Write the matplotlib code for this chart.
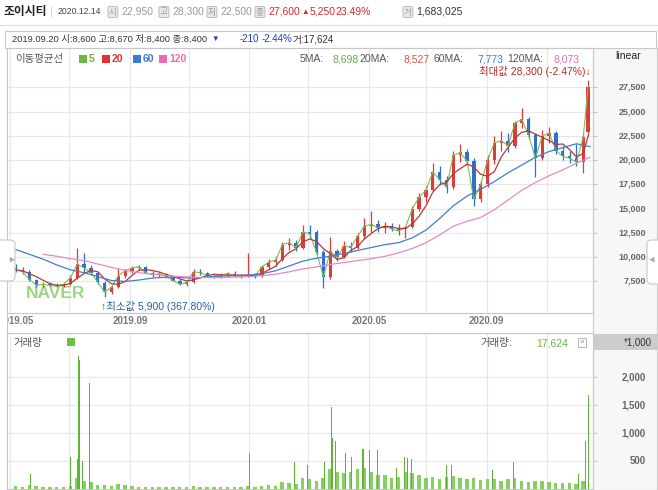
import numpy as np
import pandas as pd
import matplotlib
matplotlib.use("Agg")
import matplotlib.pyplot as plt
import matplotlib.transforms as mtransforms
from matplotlib.patches import Rectangle, FancyBboxPatch
from matplotlib.lines import Line2D

plt.rcParams['font.family'] = ['Liberation Sans', 'Noto Sans CJK KR', 'DejaVu Sans']

# ---- weekly candles (Monday of each week), 2019.05 - 2020.12.14 ----
weeks = pd.date_range("2019-05-06", "2020-12-14", freq="W-MON")
last_day = pd.Timestamp("2020-12-14")

opens = [8900, 8700, 8500, 7700, 7100, 7200, 7100, 7000, 7200, 7900,
         9300, 8900, 8400, 7300, 6400, 6900, 8100, 8600, 8900, 9000,
         8400, 8200, 8300, 8000, 7600, 7200, 7400, 8500, 8400, 8100,
         8100, 8200, 8300, 8100, 8100, 8200, 8100, 9000, 9500, 9700,
         11300, 11500, 11000, 12600, 12600, 10500, 8000, 10600, 10000, 11200,
         11000, 12200, 13200, 13400, 13000, 13200, 12900, 12900, 13100, 15000,
         16200, 16900, 18800, 18000, 17200, 20500, 20800, 19900, 16000, 17500,
         20000, 21800, 22000, 21500, 23800, 24200, 22600, 20200, 22500, 22800,
         21000, 20400, 20200, 19800, 22950]
highs = [9300, 9000, 8700, 7800, 7400, 7400, 7300, 7300, 8200, 10900,
         10400, 9200, 8500, 7500, 7000, 8900, 8800, 9100, 9200, 9100,
         8600, 8500, 8400, 8100, 7800, 7500, 8800, 8800, 8500, 8300,
         8400, 8500, 8600, 8300, 10400, 8400, 9200, 9800, 10100, 11600,
         12000, 11800, 13300, 13300, 12800, 10700, 12100, 10800, 11700, 11600,
         12500, 14000, 14800, 13800, 13600, 13500, 13400, 13200, 15300, 16600,
         17300, 19700, 19400, 18400, 21000, 21700, 21200, 20200, 17900, 20500,
         22500, 23000, 22800, 24000, 25400, 24500, 22800, 23100, 23400, 23000,
         21500, 21000, 21700, 22800, 28300]
lows = [8500, 8300, 7600, 6900, 6900, 7000, 6900, 6900, 7100, 7800,
        8500, 8200, 7200, 5900, 6200, 6800, 7900, 8400, 8700, 8400,
        8000, 8000, 7900, 7500, 7100, 7000, 7300, 8200, 8000, 7900,
        7900, 8000, 8000, 7900, 8000, 7900, 8000, 8800, 9100, 9600,
        10700, 10600, 10800, 12000, 10200, 6800, 7800, 9600, 9900, 10500,
        10800, 11900, 12500, 12600, 12500, 12700, 12300, 12000, 13000, 14800,
        15700, 16800, 17600, 16600, 17000, 19800, 19500, 15300, 15700, 17200,
        19600, 21000, 20800, 21300, 23300, 22200, 18300, 20000, 21800, 20600,
        20000, 19700, 19400, 18700, 22500]
closes = [8700, 8500, 7700, 7100, 7200, 7100, 7000, 7200, 7900, 9300,
          8900, 8400, 7400, 6400, 6900, 8100, 8600, 8900, 9000, 8400,
          8200, 8300, 8000, 7600, 7200, 7400, 8500, 8400, 8100, 8000,
          8200, 8300, 8100, 8000, 8200, 8100, 9000, 9500, 9700, 11300,
          11500, 11000, 12600, 12400, 10500, 8000, 10600, 10000, 11200, 11000,
          12200, 13200, 13400, 13000, 13200, 12900, 12700, 13100, 15000, 16200,
          16900, 18800, 18000, 17200, 20500, 20800, 19900, 16000, 17500, 20000,
          21800, 22000, 21500, 23800, 24200, 22600, 20200, 22500, 22800, 21000,
          20400, 20200, 19800, 22350, 27600]

# moving averages read every second week
ma_weeks = weeks[::2]
ma60 = [10800, 10300, 9800, 9200, 8700, 8400, 8000, 7600, 7500, 7650,
        7850, 7950, 7900, 7850, 7950, 8050, 8100, 8150, 8300, 8600,
        9100, 9600, 9900, 10100, 10400, 10700, 11000, 11300, 11500, 12000,
        12800, 14000, 15300, 16300, 17000, 17800, 18700, 19500, 20300, 20900,
        21300, 21700, 21400]
ma120 = [np.nan, np.nan, 10300, 10100, 9850, 9650, 9300, 8950, 8650, 8400,
         8250, 8100, 8000, 7950, 7900, 7900, 7950, 8000, 8100, 8250,
         8500, 8800, 9000, 9250, 9450, 9650, 9850, 10100, 10450, 10900,
         11500, 12300, 13200, 13700, 14100, 14900, 15900, 16900, 17700, 18400,
         19000, 19700, 20300]

# volume (x1,000 shares): typical daily level per week + single-day spikes
vol_week = [60, 40, 70, 50, 40, 30, 30, 30, 60, 200,
            150, 120, 70, 80, 60, 90, 70, 50, 40, 40,
            30, 30, 30, 30, 40, 30, 60, 40, 30, 30,
            30, 30, 30, 30, 50, 40, 60, 70, 60, 120,
            110, 90, 200, 180, 150, 200, 350, 300, 280, 300,
            350, 380, 300, 250, 250, 200, 220, 300, 280, 250,
            200, 220, 180, 220, 230, 200, 180, 200, 160, 180,
            170, 150, 180, 200, 150, 130, 150, 140, 120, 110,
            110, 100, 90, 150, 0]
spike_dates = ["2019-05-23", "2019-07-03", "2019-07-10", "2019-07-11", "2019-07-12",
               "2019-07-15", "2019-07-22", "2020-01-02", "2020-02-17", "2020-03-02",
               "2020-03-19", "2020-03-26", "2020-03-27", "2020-03-30", "2020-04-10",
               "2020-04-16", "2020-04-27", "2020-04-28", "2020-05-04", "2020-05-12",
               "2020-06-01", "2020-06-09", "2020-06-12", "2020-06-16", "2020-07-22",
               "2020-07-27", "2020-09-07", "2020-09-29", "2020-12-04", "2020-12-11",
               "2020-12-14"]
spike_vols = [260, 575, 530, 2380, 2300, 500, 1900, 643, 483, 430,
              480, 1465, 914, 860, 640, 570, 720, 720, 690, 690,
              380, 570, 560, 540, 430, 430, 345, 483, 260, 860,
              1683]

grid_dates = ["2019-05-02", "2019-07-01", "2019-09-02", "2019-11-01", "2020-01-02",
              "2020-03-02", "2020-05-04", "2020-07-01", "2020-09-01", "2020-11-02"]
label_dates = ["2019-05-08", "2019-09-02", "2020-01-02", "2020-05-04", "2020-09-01"]
date_labels = ["2019.05", "2019.09", "2020.01", "2020.05", "2020.09"]
price_ticks = [7500, 10000, 12500, 15000, 17500, 20000, 22500, 25000, 27500]
vol_ticks = [500, 1000, 1500, 2000]

# ---- figure helpers (pixel positions) ----
W, H = 658, 490
fig = plt.figure(figsize=(W / 100, H / 100), dpi=100)
fig.patch.set_facecolor('white')


def fx(x):
    return x / W


def fy(y):
    return 1 - y / H


def ftext(x, y, s, **kw):
    kw.setdefault('va', 'center')
    fig.text(fx(x), fy(y), s, **kw)


def fbox(x0, y0, x1, y1, **kw):
    fig.patches.append(Rectangle((fx(x0), fy(y1)), (x1 - x0) / W, (y1 - y0) / H,
                                 transform=fig.transFigure, **kw))


def fline(x0, y0, x1, y1, **kw):
    fig.add_artist(Line2D([fx(x0), fx(x1)], [fy(y0), fy(y1)], transform=fig.transFigure, **kw))


# right gray column, info box, header line (behind the axes)
fbox(593, 48, 657, 490, facecolor='#f7f7f7', edgecolor='#cccccc', lw=0.8, zorder=-2)
fbox(5, 31, 656, 48, facecolor='white', edgecolor='#c8c8c8', lw=0.8, zorder=-2)
fline(0, 25, 658, 25, color='#dddddd', lw=0.8)
fline(7, 313, 7, 333, color='#c6c6c6', lw=0.8)

ax = fig.add_axes([fx(7), fy(313), (593 - 7) / W, (313 - 48) / H])
axv = fig.add_axes([fx(7), fy(489), (593 - 7) / W, (489 - 333) / H])

xmin, xmax = pd.Timestamp("2019-04-29"), pd.Timestamp("2020-12-19")
for a in (ax, axv):
    for s in a.spines.values():
        s.set_color('#c6c6c6')
        s.set_linewidth(0.8)
    a.set_xlim(xmin, xmax)
    a.set_xticks(pd.to_datetime(grid_dates))
    a.tick_params(axis='x', length=0, labelbottom=False)
    a.grid(True, color='#e7e7e7', lw=0.8)
    a.set_axisbelow(True)

# ---- price panel ----
o = np.array(opens)
hi = np.array(highs)
lo = np.array(lows)
c = np.array(closes)
cx = (weeks + pd.Timedelta(days=2))[:-1].append(pd.DatetimeIndex([last_day]))
cols = np.where(c >= o, '#e03a3a', '#2d6fd2')

ax.vlines(cx, lo, hi, colors=cols, lw=0.9, zorder=3)
ax.bar(cx, np.abs(c - o), bottom=np.minimum(o, c), width=3.4, color=cols, zorder=4)

ma20 = pd.Series(closes).rolling(4, min_periods=1).mean()
ax.plot(cx, c, color='#7cbf52', lw=0.8, zorder=5)
ax.plot(cx, ma20, color='#b83a32', lw=0.9, zorder=5)
ax.plot(ma_weeks + pd.Timedelta(days=2), ma60, color='#3f7fd0', lw=0.9, zorder=5)
ax.plot(ma_weeks + pd.Timedelta(days=2), ma120, color='#e68ac6', lw=0.9, zorder=5)

ax.set_ylim(4250, 31570)
ax.set_yticks(price_ticks)
ax.yaxis.tick_right()
ax.tick_params(axis='y', length=3, color='#c6c6c6', labelright=False)
for v in price_ticks:
    ax.text(1.0904, v, f"{v:,}", transform=ax.get_yaxis_transform(), ha='right', va='center',
            fontsize=6.5, fontweight='bold', color='#666666', clip_on=False)

ax.text(fx(26), fy(293), 'NAVER', transform=fig.transFigure, fontsize=12.5, fontweight='black',
        color='#8dcf6a', alpha=0.85, va='center', ha='left', zorder=2)

imax = int(np.argmax(hi))
imin = int(np.argmin(lo))
ax.annotate(f"최대값 {hi[imax]:,} (-2.47%)↓", xy=(cx[imax], hi[imax]), xytext=(3, 8),
            textcoords='offset pixels', ha='right', va='center', fontsize=7.5, color='#b52a2a', zorder=6)
ax.annotate(f"↑최소값 {lo[imin]:,} (367.80%)", xy=(cx[imin], lo[imin]), xytext=(-4, -10),
            textcoords='offset pixels', ha='left', va='center', fontsize=7.5, color='#2a5aa8', zorder=6)

trans = mtransforms.blended_transform_factory(ax.transData, fig.transFigure)
for d, lab in zip(label_dates, date_labels):
    ax.text(pd.Timestamp(d), fy(321), lab, transform=trans, ha='center', va='center',
            fontsize=7, fontweight='bold', color='#777777', clip_on=False)

# ---- volume panel ----
axv.bar(weeks, vol_week, width=3.6, align='edge', color='#86cf63', zorder=2)
axv.bar(pd.to_datetime(spike_dates), spike_vols, width=1.1, color='#5db534', zorder=3)
axv.set_ylim(0, 2790)
axv.set_yticks(vol_ticks)
axv.yaxis.tick_right()
axv.tick_params(axis='y', length=3, color='#c6c6c6', labelright=False)
for v in vol_ticks:
    axv.text(1.0904, v, f"{v:,}", transform=axv.get_yaxis_transform(), ha='right', va='center',
             fontsize=7, fontweight='bold', color='#666666', clip_on=False)

# masks and side handles
fbox(0, 314, 6.6, 332, facecolor='white', edgecolor='none', zorder=10)
fig.patches.append(FancyBboxPatch((fx(-6), fy(281)), 21 / W, 41 / H, boxstyle='round,pad=0,rounding_size=0.008',
                                  transform=fig.transFigure, facecolor='white', edgecolor='#c8c8c8', lw=0.8, zorder=11))
ftext(11, 259, '▶', fontsize=4.5, color='#aaaaaa', ha='center', zorder=12)
fig.patches.append(FancyBboxPatch((fx(647), fy(284)), 16 / W, 44 / H, boxstyle='round,pad=0,rounding_size=0.008',
                                  transform=fig.transFigure, facecolor='white', edgecolor='#c8c8c8', lw=0.8, zorder=11))
ftext(652, 259, '◀', fontsize=4.5, color='#aaaaaa', ha='center', zorder=12)

# ---- header ----
ftext(4, 12, '조이시티', fontsize=8.5, fontweight='bold', color='#222222')
ftext(50, 12, '|', fontsize=8, color='#cccccc')
ftext(58, 12, '2020.12.14', fontsize=6.2, color='#444444')
icon_kw = dict(fontsize=6.2, color='#9a9a9a',
               bbox=dict(boxstyle='round,pad=0.12,rounding_size=0.2', facecolor='#e9e9e9',
                         edgecolor='#b5b5b5', lw=0.6))
for x, ch in [(109, '시'), (160, '고'), (208, '저'), (256, '종'), (404, '거')]:
    ftext(x, 12, ch, **icon_kw)
ftext(121, 12, '22,950', fontsize=7.5, color='#999999')
ftext(172, 12, '28,300', fontsize=7.5, color='#999999')
ftext(220, 12, '22,500', fontsize=7.5, color='#999999')
ftext(268, 12, '27,600', fontsize=7.5, color='#d42a2a')
ftext(301, 12, '▲', fontsize=5.5, color='#d42a2a')
ftext(310, 12, '5,250', fontsize=7.5, color='#d42a2a')
ftext(335, 12, '23.49%', fontsize=7.5, color='#d42a2a')
ftext(416, 12, '1,683,025', fontsize=7.5, color='#333333')

ftext(12, 39.5, '2019.09.20 시:8,600 고:8,670 저:8,400 종:8,400', fontsize=6.7, color='#333333')
ftext(211, 39.5, '▼', fontsize=5.5, color='#1f3fb0')
ftext(240, 39.5, '-210', fontsize=7, color='#1f3fb0')
ftext(262, 39.5, '-2.44%', fontsize=7, color='#1f3fb0')
ftext(293, 39.5, '거:17,624', fontsize=7, color='#333333')

# ---- legend row ----
ftext(15, 59, '이동평균선', fontsize=7.5, color='#555555')
for x0, lab, col in [(79, '5', '#6cb844'), (102, '20', '#e03232'), (133, '60', '#3a7bd5'), (159, '120', '#f06ab0')]:
    fbox(x0, 55, x0 + 8, 63, facecolor=col, edgecolor='none', zorder=3)
    ftext(x0 + 10, 59, lab, fontsize=7.5, fontweight='bold', color=col)

ftext(300, 59, '5MA:', fontsize=7.5, color='#555555')
ftext(333, 59, '8,698', fontsize=7.5, color='#6aa84f')
ftext(359, 59, '20MA:', fontsize=7.5, color='#555555')
ftext(403, 59, '8,527', fontsize=7.5, color='#d9534f')
ftext(434, 59, '60MA:', fontsize=7.5, color='#555555')
ftext(477, 59, '7,773', fontsize=7.5, color='#3a7bd5')
ftext(507, 59, '120MA:', fontsize=7.5, color='#555555')
ftext(553, 59, '8,073', fontsize=7.5, color='#e070b8')
ftext(615, 56, 'linear', fontsize=7.5, color='#222222')

# ---- volume header ----
ftext(13, 343, '거래량', fontsize=7.5, color='#555555')
fbox(67, 338, 75, 346, facecolor='#6cc04a', edgecolor='none', zorder=3)
ftext(480, 343, '거래량:', fontsize=7.5, color='#555555')
ftext(536, 343, '17,624', fontsize=7.5, color='#6cb33e')
fbox(578, 338, 586, 347, facecolor='white', edgecolor='#aaaaaa', lw=0.6, zorder=3)
ftext(582, 342.5, '×', fontsize=6, color='#888888', ha='center', zorder=4)
fbox(593, 334, 657, 350, facecolor='#cccccc', edgecolor='none', zorder=3)
ftext(652, 342, '*1,000', fontsize=7, color='#333333', ha='right', zorder=4)

fig.savefig('out.png', dpi=100)
